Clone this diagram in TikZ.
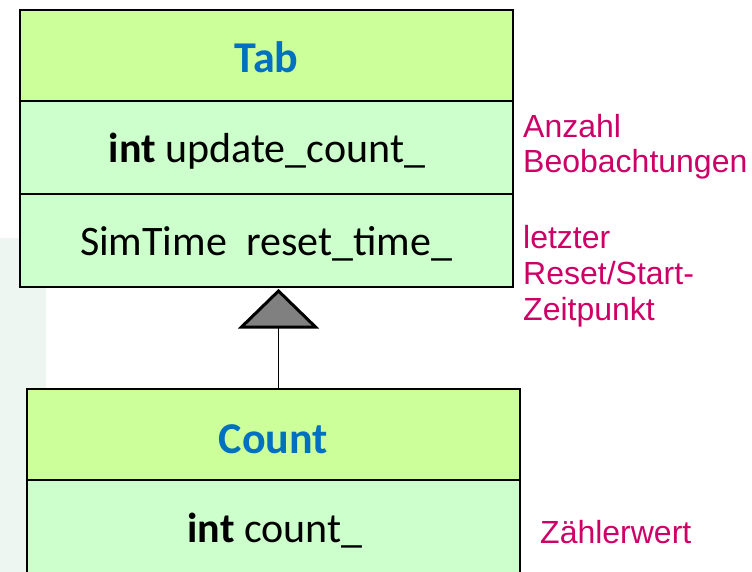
\documentclass[tikz,border=0pt]{standalone}
\usepackage{fontspec}
\setmainfont{Carlito}
\newfontfamily\notefont{Liberation Sans}
\definecolor{headgreen}{HTML}{CCFF99}
\definecolor{bodygreen}{HTML}{CCFFCC}
\definecolor{titleblue}{HTML}{0070C0}
\definecolor{notered}{HTML}{CC0066}
\definecolor{panel}{HTML}{EEF6F2}
\definecolor{arrowgray}{HTML}{808080}
\tikzset{
  compart/.style={draw=black, line width=1.8pt, rectangle, inner sep=0pt},
  headbox/.style={compart, fill=headgreen},
  bodybox/.style={compart, fill=bodygreen},
  classname/.style={font=\fontsize{44}{50}\selectfont\bfseries, text=titleblue, inner sep=0pt, anchor=base},
  member/.style={font=\fontsize{42}{48}\selectfont, inner sep=0pt, anchor=base},
  % multi-line notes are anchored on the baseline of their last line
  note/.style={font=\notefont\fontsize{32}{35.7}\selectfont, text=notered, inner sep=0pt, align=left, anchor=base west},
  inherit/.style={draw=black, line width=3pt, line join=miter, fill=arrowgray},
  link/.style={draw=black, line width=1.8pt}
}
\begin{document}
\begin{tikzpicture}[x=1pt, y=-1pt]
  \useasboundingbox (0,0) rectangle (752,572);
  \clip (0,0) rectangle (752,572);
  % faint side panel
  \fill[panel] (0,238) rectangle (46,572);

  % class Tab
  \node[headbox, minimum width=493pt, minimum height=91pt] (tabh) at (266.5,55.5) {};
  \node[bodybox, minimum width=493pt, minimum height=93pt] (tab1) at (266.5,147.5) {};
  \node[bodybox, minimum width=493pt, minimum height=93pt] (tab2) at (266.5,240.5) {};
  \node[classname] (tabname) at (266.5,73) {Tab};
  \node[member] (tabm1) at (267,163) {\textbf{int} update\_count\_};
  \node[member] (tabm2) at (266,255) {SimTime\ \ reset\_time\_};

  % class Count
  \node[headbox, minimum width=493pt, minimum height=91pt] (counth) at (273.5,434.5) {};
  \node[bodybox, minimum width=493pt, minimum height=100pt] (count1) at (273.5,530) {};
  \node[classname] (countname) at (273.5,453) {Count};
  \node[member] (countm1) at (275,542) {\textbf{int} count\_};

  % generalization: Count -> Tab
  \coordinate (apex) at (278.5,291);
  \coordinate (bl) at (241.5,327);
  \coordinate (br) at (315.5,327);
  \coordinate (basemid) at (278.5,327);
  \draw[link] (basemid) -- (basemid |- counth.north);
  \path[inherit] (apex) -- (br) -- (bl) -- cycle;

  % notes
  \node[note] (n1) at (523,173) {Anzahl\\Beobachtungen};
  \node[note] (n2) at (523,320) {letzter\\Reset/Start-\\Zeitpunkt};
  \node[note] (n3) at (540,543) {Zählerwert};
\end{tikzpicture}
\end{document}
